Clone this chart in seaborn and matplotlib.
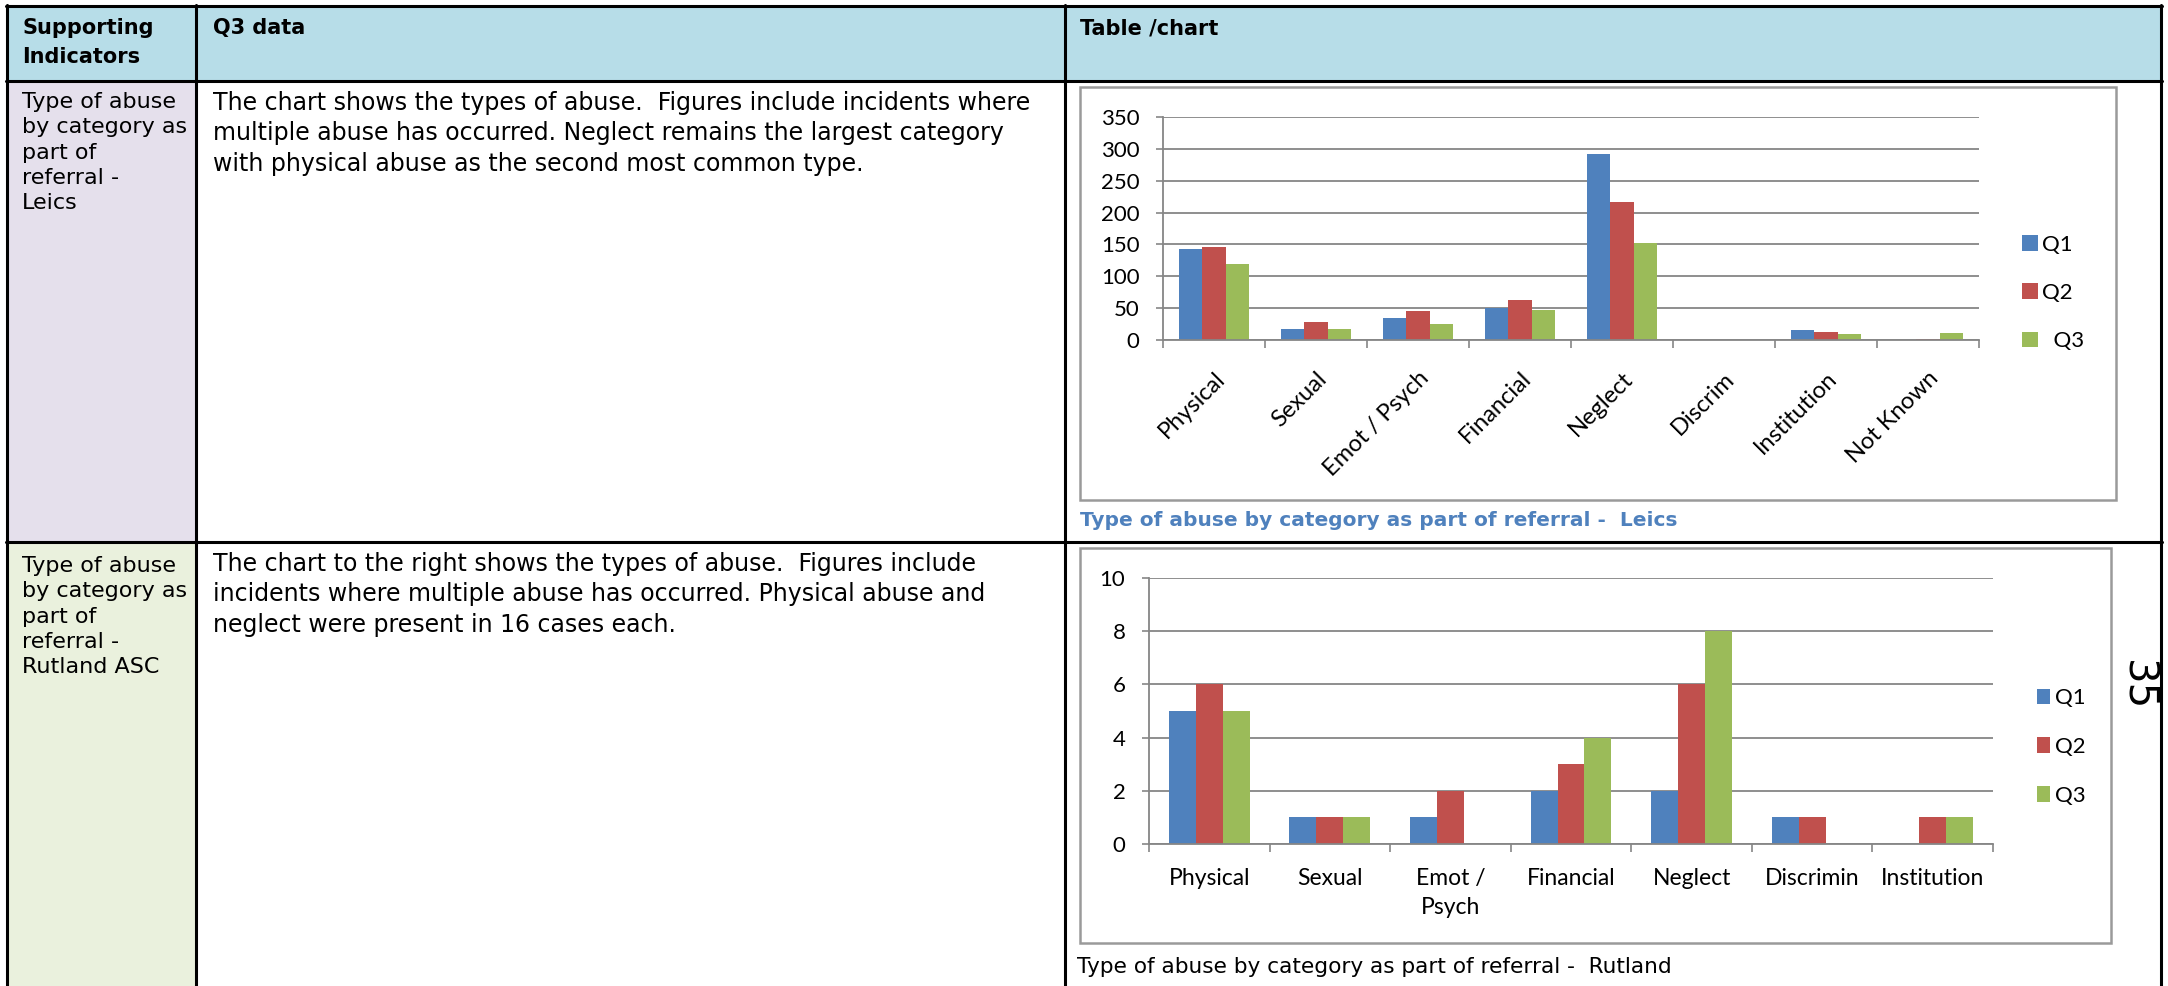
import matplotlib
matplotlib.use("Agg")

import matplotlib.pyplot as plt
import seaborn as sns
import pandas as pd
from matplotlib.patches import Rectangle
from matplotlib.lines import Line2D
from matplotlib.ticker import MultipleLocator

W, H = 2168, 986

quarters = ["Q1", "Q2", "Q3"]
colours = ["#4F81BD", "#C0504D", "#9BBB59"]

leics_cats = ["Physical", "Sexual", "Emot / Psych", "Financial", "Neglect",
              "Discrim", "Institution", "Not Known"]
leics_q1 = [143, 18, 35, 51, 292, 0, 15, 0]
leics_q2 = [146, 28, 46, 62, 217, 0, 13, 2]
leics_q3 = [119, 18, 25, 47, 153, 0, 10, 11]

rut_cats = ["Physical", "Sexual", "Emot /\nPsych", "Financial", "Neglect",
            "Discrimin", "Institution"]
rut_q1 = [5, 1, 1, 2, 2, 1, 0]
rut_q2 = [6, 1, 2, 3, 6, 1, 1]
rut_q3 = [5, 1, 0, 4, 8, 0, 1]

header_texts = ["Supporting\nIndicators", "Q3 data", "Table /chart"]
row1_label = "Type of abuse\nby category as\npart of\nreferral -\nLeics"
row1_text = ("The chart shows the types of abuse.  Figures include incidents where\n"
             "multiple abuse has occurred. Neglect remains the largest category\n"
             "with physical abuse as the second most common type.")
row2_label = "Type of abuse\nby category as\npart of\nreferral -\nRutland ASC"
row2_text = ("The chart to the right shows the types of abuse.  Figures include\n"
             "incidents where multiple abuse has occurred. Physical abuse and\n"
             "neglect were present in 16 cases each.")
caption_leics = "Type of abuse by category as part of referral -  Leics"
caption_rut = "Type of abuse by category as part of referral -  Rutland"

sns.set_theme(style="white")
plt.rcParams["font.family"] = ["Lato", "DejaVu Sans"]
plt.rcParams["text.color"] = "black"
plt.rcParams["xtick.labelcolor"] = "black"
plt.rcParams["ytick.labelcolor"] = "black"

GRID = "#868686"
TABLE_FONT = ["DejaVu Sans"]


def fx(x):
    return x / W


def fy(y):
    return 1 - y / H


def long_df(cats, q1, q2, q3):
    n = len(cats)
    return pd.DataFrame({
        "Category": cats * 3,
        "Quarter": [quarters[0]] * n + [quarters[1]] * n + [quarters[2]] * n,
        "Count": q1 + q2 + q3,
    })


def add_axes_px(fig, left, top, right, bottom):
    return fig.add_axes([fx(left), fy(bottom), (right - left) / W, (bottom - top) / H])


def style_chart(ax, ymax, step, n):
    ax.set_xlim(-0.5, n - 0.5)
    ax.set_ylim(0, ymax)
    ax.yaxis.set_major_locator(MultipleLocator(step))
    ax.set_xticks([i - 0.5 for i in range(n + 1)], minor=True)
    ax.tick_params(axis="x", which="major", length=0, labelsize=16)
    ax.tick_params(axis="x", which="minor", length=5.5, width=1.2, color=GRID,
                   direction="out", bottom=True)
    ax.tick_params(axis="y", length=5, width=1.2, color=GRID, labelsize=16,
                   pad=12, left=True)
    ax.grid(axis="y", color=GRID, lw=1.3)
    ax.grid(axis="x", visible=False)
    ax.set_axisbelow(True)
    for s in ["top", "right"]:
        ax.spines[s].set_visible(False)
    for s in ["left", "bottom"]:
        ax.spines[s].set_color(GRID)
        ax.spines[s].set_linewidth(1.3)
    ax.set_xlabel("")
    ax.set_ylabel("")
    ax.set_facecolor("none")


fig = plt.figure(figsize=(W / 100, H / 100), dpi=100)

# table backgrounds
fig.add_artist(Rectangle((fx(7), fy(81)), (2161 - 7) / W, 75 / H,
                         transform=fig.transFigure, color="#B7DDE8", zorder=-2))
fig.add_artist(Rectangle((fx(7), fy(542)), (196 - 7) / W, (542 - 81) / H,
                         transform=fig.transFigure, color="#E5E0EC", zorder=-2))
fig.add_artist(Rectangle((fx(7), fy(986)), (196 - 7) / W, (986 - 542) / H,
                         transform=fig.transFigure, color="#EAF1DD", zorder=-2))

# table borders
for y in [6, 81, 542]:
    fig.add_artist(Line2D([fx(6), fx(2162)], [fy(y), fy(y)], color="black",
                          lw=2.2, transform=fig.transFigure))
for x in [7, 196, 1065, 2161]:
    fig.add_artist(Line2D([fx(x), fx(x)], [fy(5), fy(986)], color="black",
                          lw=2.2, transform=fig.transFigure))

# chart frames
for (l, t, r, b) in [(1080, 87, 2116, 500), (1080, 548, 2111, 943)]:
    fig.add_artist(Rectangle((fx(l), fy(b)), (r - l) / W, (b - t) / H,
                             transform=fig.transFigure, fill=False,
                             edgecolor="#9A9A9A", lw=1.8))

# header / row texts
for x, txt in zip([22, 213, 1080], header_texts):
    fig.text(fx(x), fy(18), txt, ha="left", va="top", fontsize=15,
             fontweight="bold", family=TABLE_FONT, linespacing=1.55)
fig.text(fx(22), fy(92), row1_label, ha="left", va="top", fontsize=16,
         family=TABLE_FONT, linespacing=1.33)
fig.text(fx(213), fy(91), row1_text, ha="left", va="top", fontsize=17,
         family=TABLE_FONT, linespacing=1.33)
fig.text(fx(22), fy(556), row2_label, ha="left", va="top", fontsize=16,
         family=TABLE_FONT, linespacing=1.33)
fig.text(fx(213), fy(552), row2_text, ha="left", va="top", fontsize=17,
         family=TABLE_FONT, linespacing=1.33)

fig.text(fx(1080), fy(520), caption_leics, ha="left", va="center", fontsize=14.5,
         fontweight="bold", color="#4F81BD", family=TABLE_FONT)
fig.text(fx(1077), fy(967), caption_rut, ha="left", va="center", fontsize=15.6,
         color="black", family=TABLE_FONT)
fig.text(fx(2136), fy(686), "35", rotation=-90, ha="center", va="center",
         fontsize=29, family=TABLE_FONT)

# chart 1 - Leicestershire
ax1 = add_axes_px(fig, 1163, 117, 1979, 340)
df1 = long_df(leics_cats, leics_q1, leics_q2, leics_q3)
sns.barplot(data=df1, x="Category", y="Count", hue="Quarter", palette=colours,
            saturation=1, width=0.68, linewidth=0, ax=ax1)
style_chart(ax1, 350, 50, len(leics_cats))
ax1.set_xticks(range(len(leics_cats)))
ax1.set_xticklabels(leics_cats, rotation=45, ha="right", va="top",
                    rotation_mode="anchor", fontsize=17)
ax1.tick_params(axis="x", which="major", pad=20)
h1, l1 = ax1.get_legend_handles_labels()
ax1.legend(h1, ["Q1", "Q2", "  Q3"], loc="center left",
           bbox_to_anchor=(fx(2022), fy(293)), bbox_transform=fig.transFigure,
           frameon=False, fontsize=16, borderpad=0, borderaxespad=0,
           handlelength=0.7, handleheight=0.7, handletextpad=0.2,
           labelspacing=1.28)

# chart 2 - Rutland
ax2 = add_axes_px(fig, 1149, 578, 1993, 844)
df2 = long_df(rut_cats, rut_q1, rut_q2, rut_q3)
sns.barplot(data=df2, x="Category", y="Count", hue="Quarter", palette=colours,
            saturation=1, width=0.67, linewidth=0, ax=ax2)
style_chart(ax2, 10, 2, len(rut_cats))
ax2.set_xticks(range(len(rut_cats)))
ax2.set_xticklabels(rut_cats, fontsize=16.5, linespacing=1.5)
ax2.tick_params(axis="x", which="major", pad=17)
h2, l2 = ax2.get_legend_handles_labels()
ax2.legend(h2, quarters, loc="center left",
           bbox_to_anchor=(fx(2037), fy(747)), bbox_transform=fig.transFigure,
           frameon=False, fontsize=16, borderpad=0, borderaxespad=0,
           handlelength=0.6, handleheight=0.7, handletextpad=0.2,
           labelspacing=1.3)

plt.savefig("out.png", dpi=100)
plt.close()
